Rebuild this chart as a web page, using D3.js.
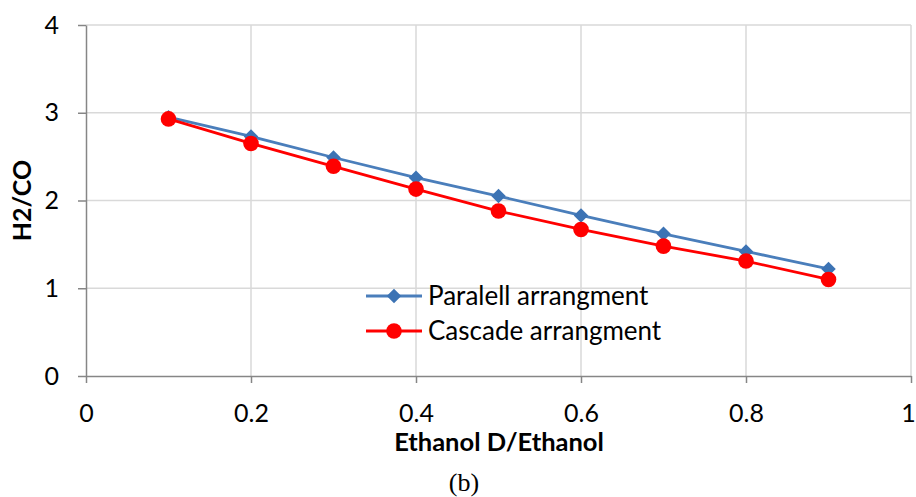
<!DOCTYPE html>
<html>
<head>
<meta charset="utf-8">
<script src="https://cdn.jsdelivr.net/npm/d3@7"></script>
<style>
  body { margin: 0; background: #fff; }
  text { font-family: Lato, "Open Sans", sans-serif; fill: #000; }
</style>
</head>
<body>
<div id="chart"></div>
<script>
const width = 916;
const height = 497;
const margin = {top: 25, right: 5, bottom: 121, left: 86};

const xValues = [0.1, 0.2, 0.3, 0.4, 0.5, 0.6, 0.7, 0.8, 0.9];
const parallelValues = [2.95, 2.73, 2.49, 2.26, 2.05, 1.83, 1.62, 1.42, 1.22];
const cascadeValues = [2.93, 2.65, 2.39, 2.13, 1.88, 1.67, 1.48, 1.31, 1.10];
const xTicks = [0, 0.2, 0.4, 0.6, 0.8, 1];
const yTicks = [0, 1, 2, 3, 4];
const seriesNames = ['Paralell arrangment', 'Cascade arrangment'];

const COLORS = {
  BLUE_LINE: '#4a7ebb',
  BLUE_MARK: '#3c73b4',
  RED: '#ff0000',
  GRID: '#d9d9d9',
  AXIS: '#868686'
};

const svg = d3.select('#chart').append('svg')
  .attr('width', width)
  .attr('height', height);

const x = d3.scaleLinear().domain([0, 1]).range([margin.left, width - margin.right]);
const y = d3.scaleLinear().domain([0, 4]).range([height - margin.bottom, margin.top]);

// gridlines
svg.append('g')
  .selectAll('line')
  .data(yTicks.slice(1))
  .join('line')
    .attr('x1', x(0)).attr('x2', x(1))
    .attr('y1', d => y(d)).attr('y2', d => y(d))
    .attr('stroke', COLORS.GRID).attr('stroke-width', 1.5);

svg.append('g')
  .selectAll('line')
  .data(xTicks.slice(1))
  .join('line')
    .attr('x1', d => x(d)).attr('x2', d => x(d))
    .attr('y1', y(0)).attr('y2', y(4))
    .attr('stroke', COLORS.GRID).attr('stroke-width', 1.5);

// axes
const xAxis = svg.append('g')
  .attr('transform', `translate(0,${y(0)})`)
  .call(d3.axisBottom(x).tickValues(xTicks).tickFormat(d3.format('~g')).tickSizeInner(7).tickSizeOuter(0).tickPadding(21));

const yAxis = svg.append('g')
  .attr('transform', `translate(${x(0)},0)`)
  .call(d3.axisLeft(y).tickValues(yTicks).tickFormat(d3.format('d')).tickSizeInner(8).tickSizeOuter(0).tickPadding(19));

[xAxis, yAxis].forEach(ax => {
  ax.select('.domain').attr('stroke', COLORS.AXIS).attr('stroke-width', 1.5);
  ax.selectAll('.tick line').attr('stroke', COLORS.AXIS).attr('stroke-width', 1.5);
  ax.selectAll('.tick text')
    .attr('font-family', 'Lato, "Open Sans", sans-serif')
    .attr('font-size', 25)
    .attr('fill', '#000');
});
// keep the last x label inside the frame
xAxis.selectAll('.tick text').filter(d => d === 1).attr('dx', -3);

// series
const line = d3.line()
  .x((d, i) => x(xValues[i]))
  .y(d => y(d));

svg.append('path')
  .datum(parallelValues)
  .attr('d', line)
  .attr('fill', 'none')
  .attr('stroke', COLORS.BLUE_LINE)
  .attr('stroke-width', 2.8);

svg.append('g')
  .selectAll('path')
  .data(parallelValues)
  .join('path')
    .attr('d', d3.symbol(d3.symbolSquare, 105))
    .attr('transform', (d, i) => `translate(${x(xValues[i])},${y(d)}) rotate(45)`)
    .attr('fill', COLORS.BLUE_MARK);

svg.append('path')
  .datum(cascadeValues)
  .attr('d', line)
  .attr('fill', 'none')
  .attr('stroke', COLORS.RED)
  .attr('stroke-width', 2.8);

svg.append('g')
  .selectAll('circle')
  .data(cascadeValues)
  .join('circle')
    .attr('cx', (d, i) => x(xValues[i]))
    .attr('cy', d => y(d))
    .attr('r', 7.8)
    .attr('fill', COLORS.RED);

// legend
const legend = svg.append('g');
const legendRows = [
  {name: seriesNames[0], color: COLORS.BLUE_LINE, mark: 'diamond', y: 296},
  {name: seriesNames[1], color: COLORS.RED, mark: 'circle', y: 331}
];
legendRows.forEach(row => {
  const g = legend.append('g');
  g.append('line')
    .attr('x1', 366).attr('x2', 422)
    .attr('y1', row.y).attr('y2', row.y)
    .attr('stroke', row.color).attr('stroke-width', 2.8);
  if (row.mark === 'diamond') {
    g.append('path')
      .attr('d', d3.symbol(d3.symbolSquare, 105))
      .attr('transform', `translate(394,${row.y}) rotate(45)`)
      .attr('fill', COLORS.BLUE_MARK);
  } else {
    g.append('circle')
      .attr('cx', 394).attr('cy', row.y).attr('r', 7.8)
      .attr('fill', COLORS.RED);
  }
  g.append('text')
    .attr('x', 428).attr('y', row.y + 9)
    .attr('font-size', 26)
    .text(row.name);
});

// axis titles
svg.append('text')
  .attr('x', 499).attr('y', 451)
  .attr('text-anchor', 'middle')
  .attr('font-size', 25.5)
  .attr('font-weight', 'bold')
  .text('Ethanol D/Ethanol');

svg.append('text')
  .attr('transform', `translate(31,${(y(0) + y(4)) / 2}) rotate(-90)`)
  .attr('text-anchor', 'middle')
  .attr('font-size', 25)
  .attr('font-weight', 'bold')
  .text('H2/CO');

svg.append('text')
  .attr('x', 464).attr('y', 491)
  .attr('text-anchor', 'middle')
  .style('font-family', '"Liberation Serif", "DejaVu Serif", serif')
  .attr('font-size', 26)
  .text('(b)');
</script>
</body>
</html>
